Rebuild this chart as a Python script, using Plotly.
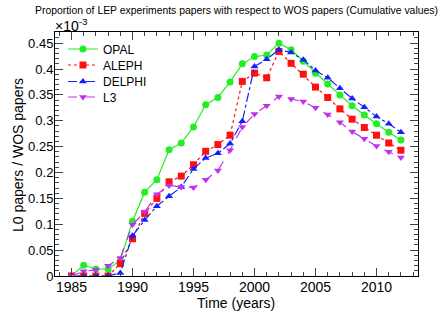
import plotly.graph_objects as go

years = list(range(1985, 2013))

opal = [0.0, 0.021, 0.0135, 0.0135, 0.030, 0.106, 0.162, 0.186, 0.244, 0.257,
        0.288, 0.331, 0.345, 0.375, 0.410, 0.424, 0.427, 0.450, 0.437, 0.415,
        0.392, 0.371, 0.350, 0.329, 0.311, 0.294, 0.278, 0.263]
aleph = [0.0, 0.0, 0.0, 0.0, 0.024, 0.072, 0.121, 0.150, 0.182, 0.193,
         0.215, 0.241, 0.254, 0.272, 0.376, 0.392, 0.383, 0.434, 0.411, 0.390,
         0.365, 0.345, 0.323, 0.303, 0.287, 0.272, 0.257, 0.243]
delphi = [0.0, 0.0, 0.0, 0.0, 0.006, 0.078, 0.108, 0.135, 0.154, 0.172,
          0.207, 0.228, 0.237, 0.256, 0.299, 0.405, 0.419, 0.437, 0.432, 0.418,
          0.397, 0.383, 0.363, 0.343, 0.326, 0.308, 0.294, 0.278]
l3 = [0.0, 0.009, 0.012, 0.020, 0.035, 0.099, 0.124, 0.158, 0.175, 0.172,
      0.171, 0.186, 0.204, 0.243, 0.288, 0.313, 0.329, 0.347, 0.342, 0.337,
      0.325, 0.312, 0.297, 0.279, 0.265, 0.251, 0.240, 0.229]

series_names = ["OPAL", "ALEPH", "DELPHI", "L3"]
x_ticks = [1985, 1990, 1995, 2000, 2005, 2010]
y_ticks = [0, 0.05, 0.1, 0.15, 0.2, 0.25, 0.3, 0.35, 0.4, 0.45]
y_tick_labels = ["0", "0.05", "0.1", "0.15", "0.2", "0.25", "0.3", "0.35", "0.4", "0.45"]

styles = [
    dict(color="#22ee22", dash="solid", symbol="circle"),
    dict(color="#ff1010", dash="dot", symbol="square"),
    dict(color="#1020ff", dash="dashdot", symbol="triangle-up"),
    dict(color="#c030f0", dash="dash", symbol="triangle-down"),
]

W, H = 440, 314
L, R, T, B = 55, 22, 32, 38
plot_w = W - L - R
plot_h = H - T - B

legend_ids = ["legend", "legend2", "legend3", "legend4"]
legend_rows_px = [49, 65, 81.5, 97]

fig = go.Figure()
for name, vals, st, lid in zip(series_names, [opal, aleph, delphi, l3], styles, legend_ids):
    fig.add_trace(go.Scatter(
        x=years, y=vals, name=name, mode="lines+markers", legend=lid,
        line=dict(color=st["color"], dash=st["dash"], width=1.2),
        marker=dict(color=st["color"], symbol=st["symbol"], size=7),
    ))

legend_layout = {}
for lid, py in zip(legend_ids, legend_rows_px):
    legend_layout[lid] = dict(
        x=0.022, y=(H - B - py) / plot_h, xanchor="left", yanchor="middle",
        bgcolor="rgba(0,0,0,0)", font=dict(size=12), itemwidth=30,
    )

fig.update_layout(
    width=W, height=H,
    margin=dict(l=L, r=R, t=T, b=B, autoexpand=False),
    paper_bgcolor="white", plot_bgcolor="white",
    font=dict(family="Liberation Sans, Arial, sans-serif", color="black", size=14),
    showlegend=True,
    xaxis=dict(range=[1983.65, 2013.4], tickvals=x_ticks, ticks="inside", ticklen=8,
               showline=True, linecolor="black", linewidth=1, mirror="allticks",
               showgrid=False, zeroline=False, tickfont=dict(size=14), automargin=False,
               minor=dict(dtick=1, tick0=1985, ticks="inside", ticklen=4, showgrid=False)),
    yaxis=dict(range=[0, 0.4715], tickvals=y_ticks, ticktext=y_tick_labels,
               ticks="inside", ticklen=8, automargin=False,
               showline=True, linecolor="black", linewidth=1, mirror="allticks",
               showgrid=False, zeroline=False, tickfont=dict(size=13),
               minor=dict(dtick=0.01, tick0=0, ticks="inside", ticklen=4, showgrid=False)),
    **legend_layout,
)
try:
    fig.update_layout(yaxis_ticklabelstandoff=-2, xaxis_ticklabelstandoff=-2)
except Exception:
    pass

fig.add_annotation(text="Proportion of LEP experiments papers with respect to WOS papers (Cumulative values)",
                   xref="paper", yref="paper", x=(236 - L) / plot_w, y=(H - B - 10) / plot_h,
                   xanchor="center", yanchor="middle", showarrow=False,
                   font=dict(size=10.4))
fig.add_annotation(text="×10<sup>-3</sup>", xref="paper", yref="paper",
                   x=0, y=1, xanchor="left", yanchor="bottom", showarrow=False,
                   font=dict(size=14), xshift=-2, yshift=-4)
fig.add_annotation(text="Time (years)", xref="paper", yref="paper",
                   x=(236 - L) / plot_w, y=(H - B - 303) / plot_h,
                   xanchor="center", yanchor="middle", showarrow=False,
                   font=dict(size=14))
fig.add_annotation(text="L0 papers / WOS papers", xref="paper", yref="paper",
                   x=(18 - L) / plot_w, y=(H - B - 155) / plot_h, textangle=-90,
                   xanchor="center", yanchor="middle", showarrow=False,
                   font=dict(size=14))

fig.write_html("out.html", config={"displayModeBar": False},
               post_script="document.body.style.margin='0';document.body.style.padding='0';")
